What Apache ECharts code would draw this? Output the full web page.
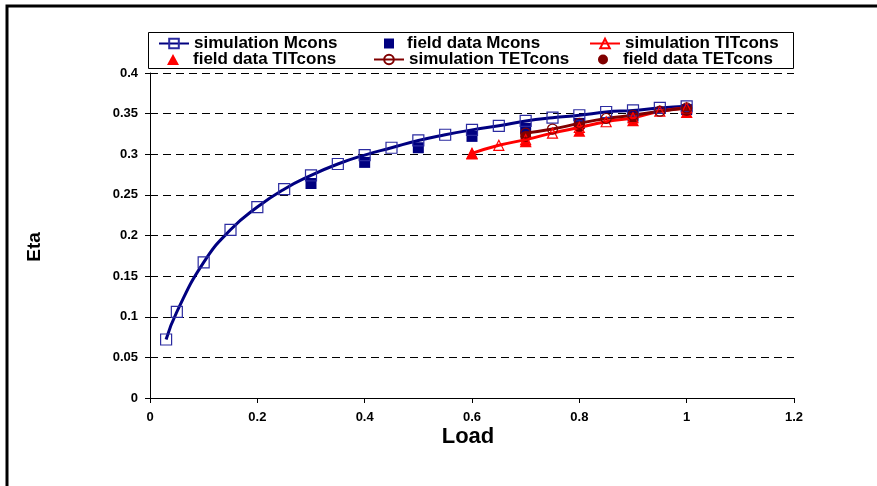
<!DOCTYPE html>
<html>
<head>
<meta charset="utf-8">
<style>
  html, body { margin: 0; padding: 0; background: #fff; }
  #chart { width: 877px; height: 486px; }
</style>
<script src="https://cdn.jsdelivr.net/npm/echarts@6/dist/echarts.min.js"></script>
</head>
<body>
<div id="chart"></div>
<script>
// Efficiency (Eta) versus relative load for three control strategies
var loadSimM = [0.03, 0.05, 0.1, 0.15, 0.2, 0.25, 0.3, 0.35, 0.4, 0.45, 0.5, 0.55, 0.6, 0.65, 0.7, 0.75, 0.8, 0.85, 0.9, 0.95, 1.0];
var etaSimM  = [0.072, 0.106, 0.167, 0.207, 0.235, 0.257, 0.274, 0.288, 0.299, 0.308, 0.317, 0.324, 0.330, 0.335, 0.341, 0.345, 0.348, 0.352, 0.354, 0.357, 0.359];

var loadFieldM = [0.3, 0.4, 0.5, 0.6, 0.7, 0.8, 0.9, 1.0];
var etaFieldM  = [0.264, 0.290, 0.308, 0.322, 0.332, 0.338, 0.347, 0.355];

var loadSimTIT = [0.6, 0.65, 0.7, 0.75, 0.8, 0.85, 0.9, 0.95, 1.0];
var etaSimTIT  = [0.301, 0.311, 0.318, 0.326, 0.333, 0.340, 0.345, 0.353, 0.357];

var loadFieldTIT = [0.6, 0.7, 0.8, 0.9, 1.0];
var etaFieldTIT  = [0.301, 0.316, 0.329, 0.342, 0.352];

var loadSimTET = [0.7, 0.75, 0.8, 0.85, 0.9, 0.95, 1.0];
var etaSimTET  = [0.326, 0.331, 0.338, 0.344, 0.348, 0.353, 0.357];

var loadFieldTET = [0.7, 0.8, 0.9, 1.0];
var etaFieldTET  = [0.322, 0.334, 0.345, 0.354];

var seriesNames = ['simulation Mcons', 'field data Mcons', 'simulation TITcons',
                   'field data TITcons', 'simulation TETcons', 'field data TETcons'];
var xTitle = 'Load';
var yTitle = 'Eta';

function pairs(xs, ys) { return xs.map(function (x, i) { return [x, ys[i]]; }); }

var NAVY = '#000080', RED = '#ff0000', MAROON = '#800000';
var FONT = '"Liberation Sans", Arial, sans-serif';

// one legend component per entry so each icon keeps its own size
function legendItem(name, left, top, w, h, padLeft) {
  return {
    orient: 'vertical', left: left, top: top, padding: 0,
    itemWidth: w, itemHeight: h, itemGap: 0,
    textStyle: { fontFamily: FONT, fontWeight: 'bold', fontSize: 17, color: '#000',
                 lineHeight: 16, padding: [0, 0, 0, padLeft] },
    data: [name]
  };
}

var chart = echarts.init(document.getElementById('chart'), null, { renderer: 'canvas' });
chart.setOption({
  animation: false,
  backgroundColor: '#fff',
  graphic: [
    { type: 'rect', shape: { x: 7, y: 6, width: 900, height: 520 }, style: { fill: 'none', stroke: '#000', lineWidth: 3 }, silent: true },
    { type: 'rect', shape: { x: 148.5, y: 32.5, width: 645, height: 36 }, style: { fill: 'none', stroke: '#000', lineWidth: 1 }, silent: true },
    { type: 'text', x: 35, y: 247, rotation: Math.PI / 2, silent: true,
      style: { text: yTitle, fill: '#000', font: 'bold 19px ' + FONT, align: 'center', verticalAlign: 'middle' } },
    { type: 'text', x: 468, y: 437, silent: true,
      style: { text: xTitle, fill: '#000', font: 'bold 22px ' + FONT, align: 'center', verticalAlign: 'middle' } }
  ],
  legend: [
    legendItem(seriesNames[0], 158, 35, 30, 12, 0),
    legendItem(seriesNames[1], 384, 35, 10, 10, 8),
    legendItem(seriesNames[2], 589, 35, 30, 12, 0),
    legendItem(seriesNames[3], 167, 51, 12, 11, 9),
    legendItem(seriesNames[4], 373, 51, 30, 12, 0),
    legendItem(seriesNames[5], 598, 51, 10, 10, 10)
  ],
  grid: { left: 150, right: 83, top: 73, bottom: 88, containLabel: false },
  xAxis: {
    type: 'value', min: 0, max: 1.2, interval: 0.2,
    axisLine: { show: true, lineStyle: { color: '#000', width: 1 } },
    axisTick: { show: true, length: 5, lineStyle: { color: '#000' } },
    axisLabel: { margin: 13, fontFamily: FONT, fontWeight: 'bold', fontSize: 13, color: '#000' },
    splitLine: { show: false }
  },
  yAxis: {
    type: 'value', min: 0, max: 0.4, interval: 0.05,
    axisLine: { show: true, lineStyle: { color: '#000', width: 1 } },
    axisTick: { show: true, length: 5, lineStyle: { color: '#000' } },
    axisLabel: { margin: 12, fontFamily: FONT, fontWeight: 'bold', fontSize: 13, color: '#000' },
    splitLine: { show: true, lineStyle: { color: '#000', width: 1, type: [8, 5] } }
  },
  series: [
    {
      name: seriesNames[0], type: 'line', smooth: true, data: pairs(loadSimM, etaSimM),
      symbol: 'rect', symbolSize: 11, showAllSymbol: true,
      lineStyle: { color: NAVY, width: 3 },
      itemStyle: { color: 'rgba(255,255,255,0)', borderColor: '#2b2ba0', borderWidth: 1.2 }
    },
    {
      name: seriesNames[1], type: 'scatter', data: pairs(loadFieldM, etaFieldM),
      symbol: 'rect', symbolSize: 11, itemStyle: { color: NAVY, opacity: 1 }
    },
    {
      name: seriesNames[2], type: 'line', smooth: true, data: pairs(loadSimTIT, etaSimTIT),
      symbol: 'triangle', symbolSize: 10, showAllSymbol: true,
      lineStyle: { color: RED, width: 3 },
      itemStyle: { color: 'rgba(255,255,255,0)', borderColor: RED, borderWidth: 1.2 }
    },
    {
      name: seriesNames[3], type: 'scatter', data: pairs(loadFieldTIT, etaFieldTIT),
      symbol: 'triangle', symbolSize: 12, itemStyle: { color: RED, opacity: 1 }
    },
    {
      name: seriesNames[4], type: 'line', smooth: true, data: pairs(loadSimTET, etaSimTET),
      symbol: 'circle', symbolSize: 10, showAllSymbol: true,
      lineStyle: { color: MAROON, width: 3 },
      itemStyle: { color: 'rgba(255,255,255,0)', borderColor: MAROON, borderWidth: 1.2 }
    },
    {
      name: seriesNames[5], type: 'scatter', data: pairs(loadFieldTET, etaFieldTET),
      symbol: 'circle', symbolSize: 11, itemStyle: { color: MAROON, opacity: 1 }
    }
  ]
});
</script>
</body>
</html>
